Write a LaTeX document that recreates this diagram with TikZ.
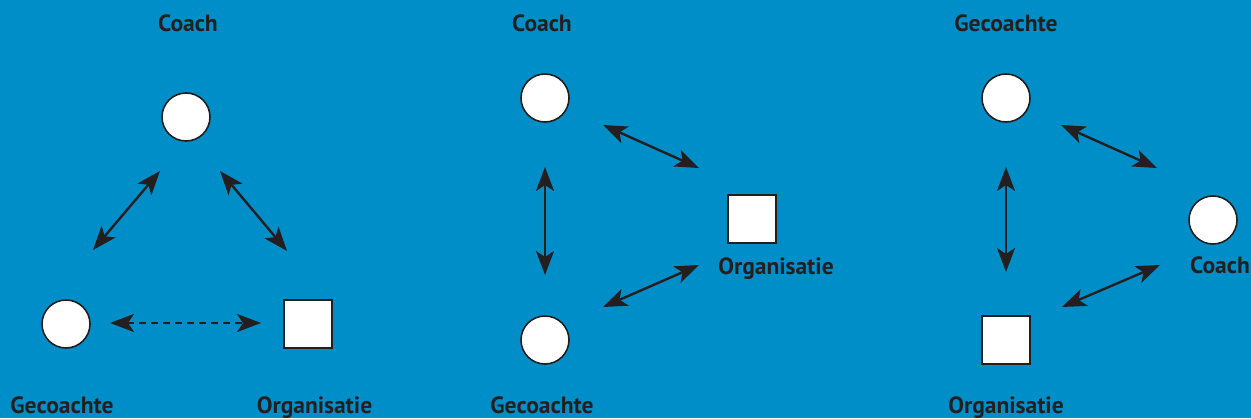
\documentclass[tikz,border=0pt]{standalone}
\usepackage{fontspec}
\setmainfont{PT Sans}
\usetikzlibrary{arrows.meta}
\definecolor{bg}{RGB}{0,142,200}
\definecolor{ink}{RGB}{35,31,32}
\begin{document}
\begin{tikzpicture}[x=1pt,y=-1pt,
  person/.style={circle,draw=ink,line width=1.6pt,fill=white,minimum size=48pt,inner sep=0pt},
  org/.style={rectangle,draw=ink,line width=1.6pt,fill=white,minimum size=48pt,inner sep=0pt},
  lbl/.style={text=ink,font=\fontsize{23.5}{26}\selectfont\bfseries,inner sep=0pt,anchor=base},
  tip/.style={Stealth[length=24pt,width=18pt,inset=6pt]},
  rel/.style={draw=ink,line width=2.4pt,{Stealth[length=24pt,width=18pt,inset=6pt]}-{Stealth[length=24pt,width=18pt,inset=6pt]}},
  relx/.style={rel,dash pattern=on 7pt off 5pt}]
\fill[bg] (0,0) rectangle (1251,418);
\useasboundingbox (0,0) rectangle (1251,418);
% Panel 1
\node[lbl] (l1c) at (188,31) {Coach};
\node[person] (p1c) at (186,117) {};
\node[person] (p1g) at (66,324) {};
\node[org] (p1o) at (308,324) {};
\node[lbl] (l1g) at (62,413) {Gecoachte};
\node[lbl] (l1o) at (314.5,413) {Organisatie};
\coordinate (a1s) at (93,250); \coordinate (a1e) at (160,171);
\coordinate (b1s) at (220,171); \coordinate (b1e) at (287,251);
\coordinate (d1s) at (110,323); \coordinate (d1e) at (261,323);
\draw[rel] (a1s) -- (a1e);
\draw[rel] (b1s) -- (b1e);
\draw[relx] (d1s) -- (d1e);
% Panel 2
\node[lbl] (l2c) at (542,31) {Coach};
\node[person] (p2c) at (545,98) {};
\node[org] (p2o) at (752,219) {};
\node[lbl] (l2o) at (776,274) {Organisatie};
\node[person] (p2g) at (545,340) {};
\node[lbl] (l2g) at (542,413) {Gecoachte};
\coordinate (a2s) at (545,167); \coordinate (a2e) at (545,275);
\coordinate (b2s) at (603,125); \coordinate (b2e) at (699,168);
\coordinate (c2s) at (603,307); \coordinate (c2e) at (699,265);
\draw[rel] (a2s) -- (a2e);
\draw[rel] (b2s) -- (b2e);
\draw[rel] (c2s) -- (c2e);
% Panel 3
\node[lbl] (l3g) at (1006,31) {Gecoachte};
\node[person] (p3g) at (1006,98) {};
\node[person] (p3c) at (1213,220) {};
\node[lbl] (l3c) at (1220,273) {Coach};
\node[org] (p3o) at (1006,340) {};
\node[lbl] (l3o) at (1006,413) {Organisatie};
\coordinate (a3s) at (1006,167); \coordinate (a3e) at (1006,272);
\coordinate (b3s) at (1061,125); \coordinate (b3e) at (1157,168);
\coordinate (c3s) at (1062,307); \coordinate (c3e) at (1160,265);
\draw[rel] (a3s) -- (a3e);
\draw[rel] (b3s) -- (b3e);
\draw[rel] (c3s) -- (c3e);
\end{tikzpicture}
\end{document}
